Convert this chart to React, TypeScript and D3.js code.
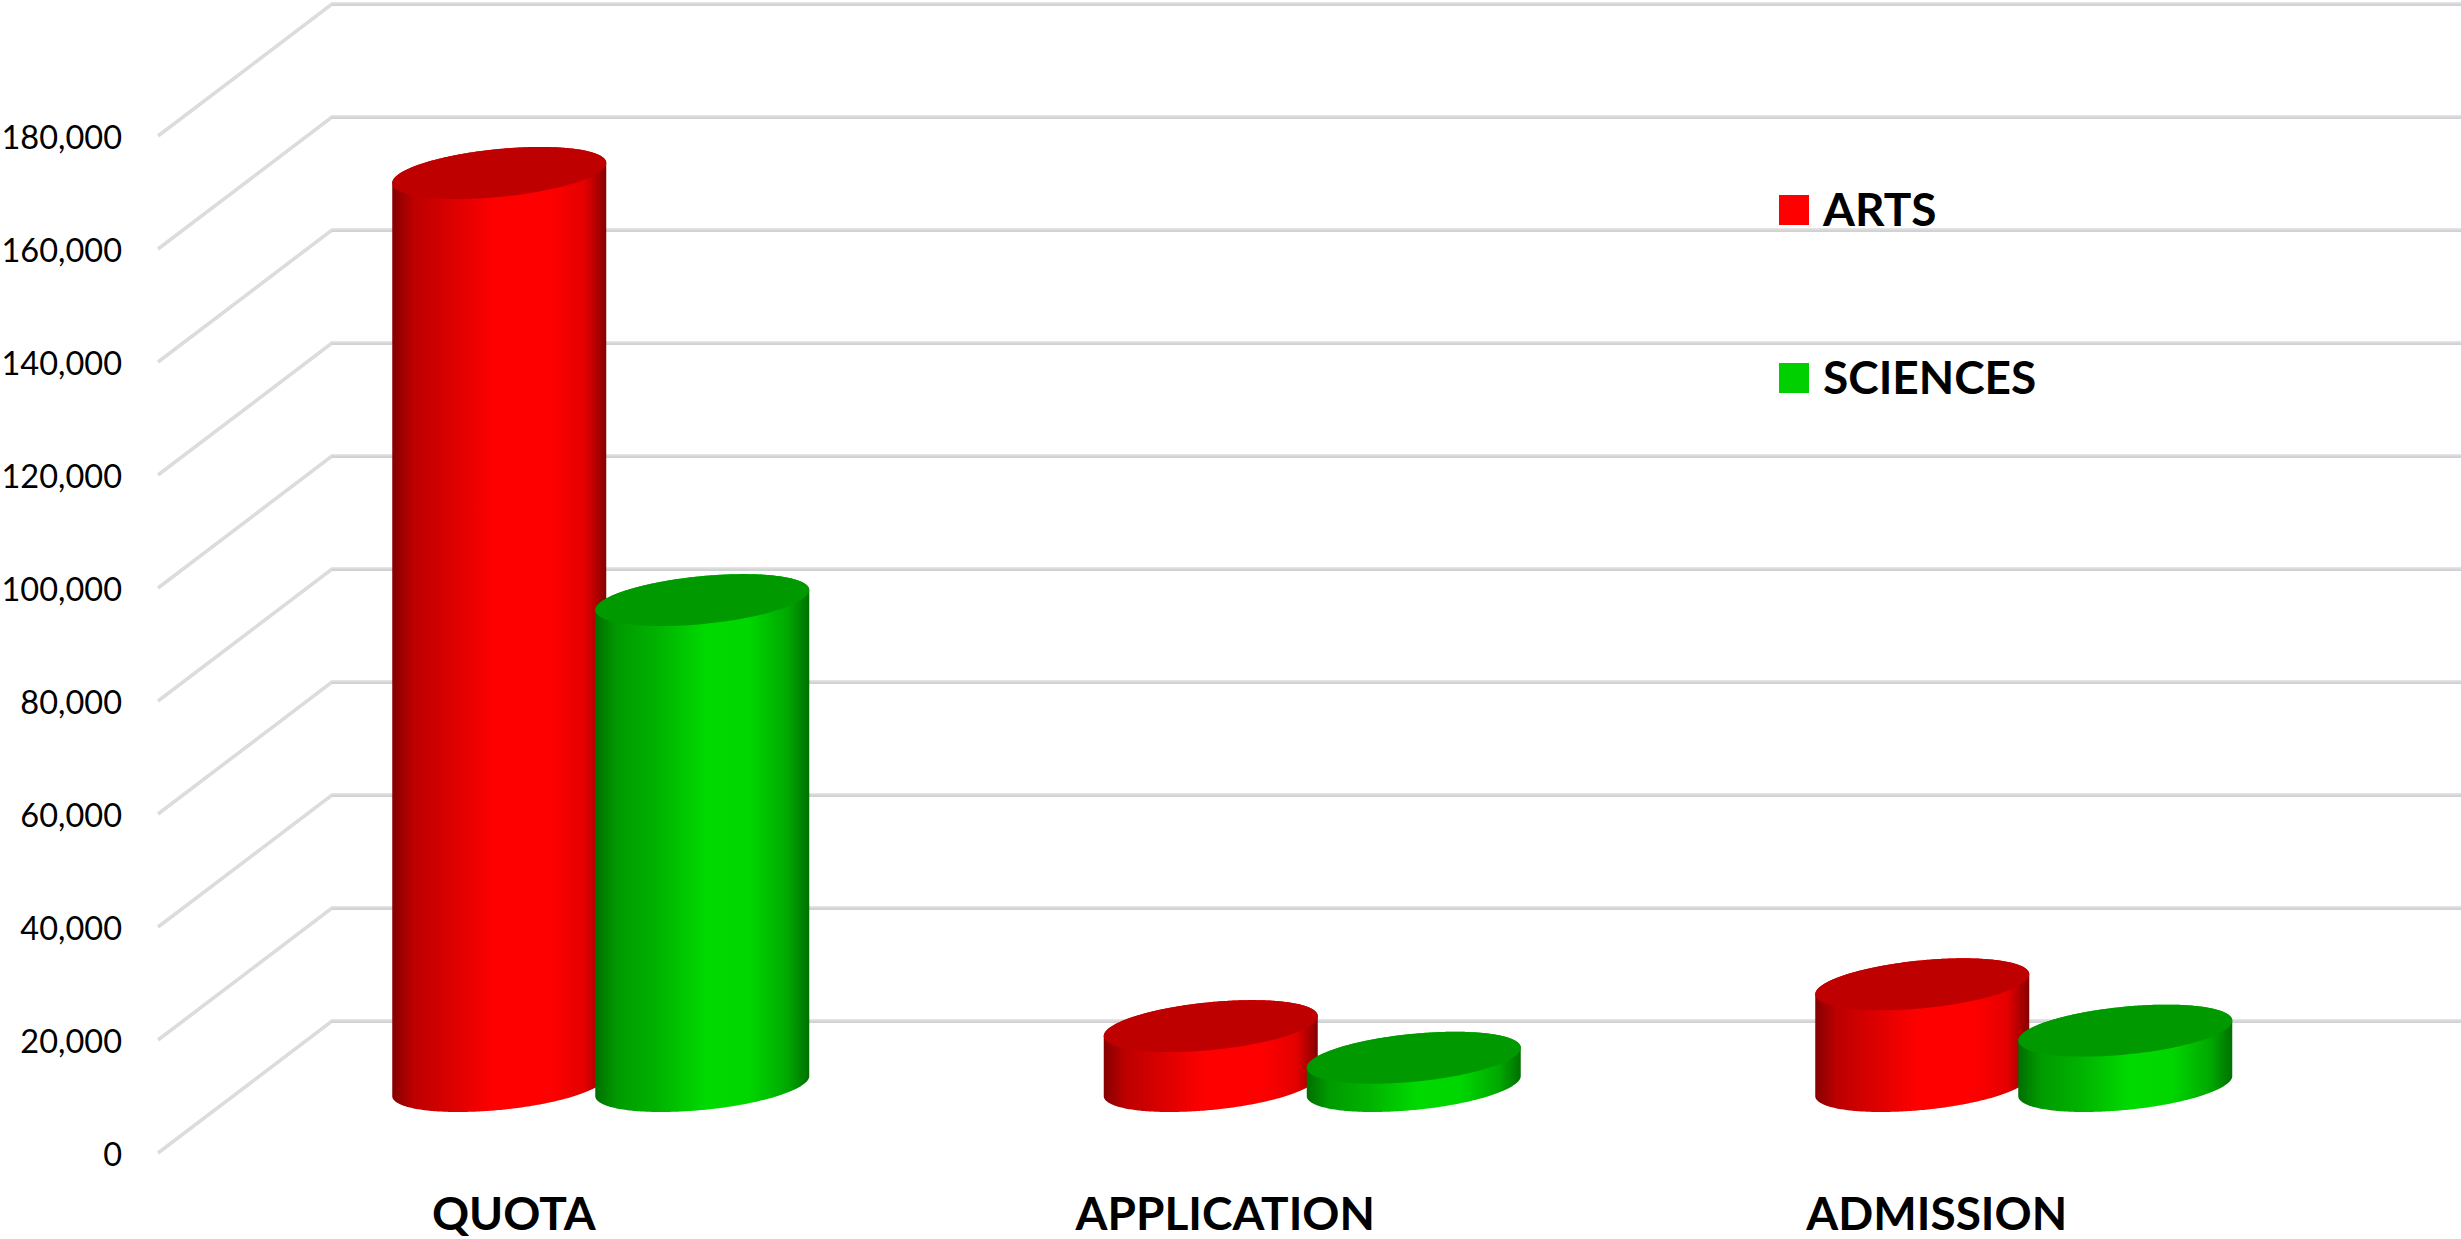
import React from 'react';
import * as d3 from 'd3';

const categories = ['QUOTA', 'APPLICATION', 'ADMISSION'];
const seriesNames = ['ARTS', 'SCIENCES'];
const artsValues = [161600, 10600, 18000];
const sciencesValues = [86000, 5000, 9800];
const seriesValues = [artsValues, sciencesValues];
const yTicks = d3.range(0, 180001, 20000);

const width = 2461;
const height = 1239;

// depth of the floor: back wall is up and to the right of the labelled front edge
const depthX = 174;
const depthY = -132;
const frontX = 158;
const frontZeroY = 1153;
const frontTopY = 136;

const yFront = d3.scaleLinear().domain([0, 180000]).range([frontZeroY, frontTopY]);
// bars stand in the middle of the floor
const yMid = (v: number) => yFront(v) + depthY / 2 - 1;

const x0 = d3.scaleBand<string>().domain(categories).range([frontX + depthX / 2, frontX + depthX / 2 + 2134.5]);
const x1 = d3.scalePoint<string>().domain(seriesNames).range([-101.5, 101.5]);

const barHalfWidth = 107;
const capHalfHeight = 26;
const capTilt = -10; // right end of the cap sits higher than the left end

const fmt = d3.format(',');

const palette: Record<string, { stops: [number, string][]; cap: string; swatch: string }> = {
  ARTS: {
    stops: [[0, '#860000'], [0.1, '#bd0000'], [0.28, '#dc0000'], [0.48, '#ff0000'], [0.74, '#ff0000'], [0.9, '#e40000'], [1, '#860000']],
    cap: '#bf0000',
    swatch: '#ff0000',
  },
  SCIENCES: {
    stops: [[0, '#006f00'], [0.1, '#009a00'], [0.3, '#00b400'], [0.52, '#00da00'], [0.72, '#00d600'], [0.9, '#00a800'], [1, '#007000']],
    cap: '#009a00',
    swatch: '#00d000',
  },
};

// tilted ellipse for the cylinder's cap and base
const ellipsePoint = (cx: number, cy: number, t: number): [number, number] => [
  cx + barHalfWidth * Math.cos(t),
  cy + capTilt * Math.cos(t) + Math.sqrt(capHalfHeight ** 2 - capTilt ** 2) * Math.sin(t),
];

const lineGen = d3.line();

const capPath = (cx: number, cy: number) =>
  lineGen(d3.range(0, 2 * Math.PI, 0.02).map(t => ellipsePoint(cx, cy, t))) + 'Z';

// body: lower half of the base ellipse, up to the lower half of the top ellipse
const bodyPath = (cx: number, topY: number, baseY: number) => {
  const angles = d3.range(0, Math.PI + 0.01, 0.02);
  const lower = angles.map(t => ellipsePoint(cx, baseY, t));
  const upper = angles.slice().reverse().map(t => ellipsePoint(cx, topY, -t));
  return lineGen([...lower, ...upper]) + 'Z';
};

const App: React.FC = () => {
  const baseY = yMid(0);
  return (
    <svg
      width={width}
      height={height}
      viewBox={`0 0 ${width} ${height}`}
      style={{ position: 'absolute', left: 0, top: 0, background: '#fff', fontFamily: 'Lato, sans-serif' }}
    >
      <defs>
        {seriesNames.map(name => (
          <linearGradient key={name} id={`grad-${name}`} x1="0" x2="1" y1="0" y2="0">
            {palette[name].stops.map(([o, c]) => (
              <stop key={o} offset={o} stopColor={c} />
            ))}
          </linearGradient>
        ))}
      </defs>

      {/* Grid: floor edge plus back wall */}
      <g fill="none" strokeLinejoin="miter">
        {yTicks.map(t => {
          const fy = yFront(t);
          const pts: [number, number][] = [
            [frontX, fy],
            [frontX + depthX, fy + depthY],
            [width, fy + depthY],
          ];
          return (
            <g key={t}>
              <path d={lineGen(pts) ?? ''} stroke="#dcdcdc" strokeWidth={3.6} />
              <path
                d={lineGen([[frontX + depthX, fy + depthY + 1.2], [width, fy + depthY + 1.2]]) ?? ''}
                stroke="#c9ccd1"
                strokeWidth={1.2}
              />
            </g>
          );
        })}
      </g>

      {/* Y tick labels */}
      <g textAnchor="end" fontSize={32.5} fill="#000">
        {yTicks.map(t => (
          <text key={t} x={122} y={yFront(t) + 13}>
            {fmt(t)}
          </text>
        ))}
      </g>

      {/* Cylinders */}
      {categories.map((cat, i) => (
        <g key={cat}>
          {seriesNames.map((name, s) => {
            const cx = (x0(cat) ?? 0) + x0.bandwidth() / 2 + (x1(name) ?? 0);
            const topY = yMid(seriesValues[s][i]);
            return (
              <g key={name}>
                <path d={bodyPath(cx, topY, baseY)} fill={`url(#grad-${name})`} />
                <path d={capPath(cx, topY)} fill={palette[name].cap} />
              </g>
            );
          })}
        </g>
      ))}

      {/* Category labels sit under the front edge */}
      <g textAnchor="middle" fontSize={46} fontWeight={700} fill="#000">
        {categories.map(cat => (
          <text key={cat} x={(x0(cat) ?? 0) + x0.bandwidth() / 2 - depthX / 2} y={1230}>
            {cat}
          </text>
        ))}
      </g>

      {/* Legend */}
      <g>
        {seriesNames.map((name, s) => {
          const ly = 195 + s * 168;
          return (
            <g key={name}>
              <rect x={1779} y={ly} width={30} height={30} fill={palette[name].swatch} />
              <text x={1823} y={ly + 31} fontSize={46} fontWeight={700} fill="#000">
                {name}
              </text>
            </g>
          );
        })}
      </g>
    </svg>
  );
};

export default App;
